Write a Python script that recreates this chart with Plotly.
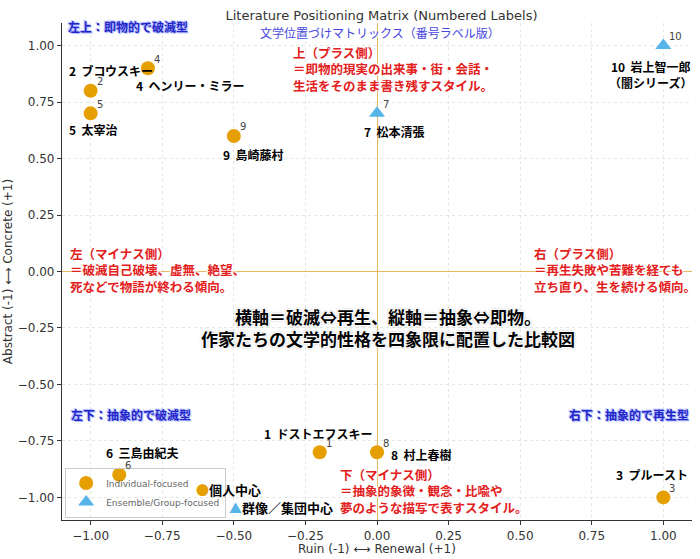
import plotly.graph_objects as go

# --- data -------------------------------------------------------------
ids = [1, 2, 3, 4, 5, 6, 7, 8, 9, 10]
names = ["ドストエフスキー", "ブコウスキー", "プルースト", "ヘンリー・ミラー", "太宰治",
         "三島由紀夫", "松本清張", "村上春樹", "島崎藤村", "岩上智一郎<br>（闇シリーズ）"]
ruin_renewal = [-0.2, -1.0, 1.0, -0.8, -1.0, -0.9, 0.0, 0.0, -0.5, 1.0]
abstract_concrete = [-0.8, 0.8, -1.0, 0.9, 0.7, -0.9, 0.7, -0.8, 0.6, 1.0]
groups = ["ind", "ind", "ind", "ind", "ind", "ind", "ens", "ind", "ind", "ens"]

# label offsets from each point (layout only)
label_dx = [-0.005, 0.07, -0.04, 0.15, 0.01, 0.08, 0.06, 0.155, 0.07, -0.045]
label_dy = [0.085, 0.09, 0.10, -0.075, -0.07, 0.10, -0.08, -0.01, -0.08, -0.13]

ORANGE = "#E69F00"
BLUE = "#56B4E9"
CJK = "Noto Sans CJK JP"
halo = "white 1px 1px 1px, white -1px -1px 1px, white 1px -1px 1px, white -1px 1px 1px"

fig = go.Figure()

for key, name, color, symbol in [("ind", "Individual-focused", ORANGE, "circle"),
                                 ("ens", "Ensemble/Group-focused", BLUE, "triangle-up")]:
    idx = [i for i, g in enumerate(groups) if g == key]
    fig.add_trace(go.Scatter(
        x=[ruin_renewal[i] for i in idx],
        y=[abstract_concrete[i] for i in idx],
        mode="markers",
        marker=dict(color=color, size=14, symbol=symbol),
        name=name,
    ))

annotations = []
for i in range(len(ids)):
    # small number next to marker
    annotations.append(dict(
        x=ruin_renewal[i], y=abstract_concrete[i], xshift=9 + 3 * (ids[i] >= 10), yshift=9,
        text=str(ids[i]), showarrow=False,
        font=dict(family="DejaVu Sans", size=10, color="#444")))
    # name label
    annotations.append(dict(
        x=ruin_renewal[i] + label_dx[i], y=abstract_concrete[i] + label_dy[i],
        text=f"<b>{ids[i]}  {names[i]}</b>", showarrow=False,
        font=dict(family=CJK, size=12, color="black"), align="center"))

# quadrant labels
quad_font = dict(family=CJK, size=12, color="#2424c8", shadow="#a8b8ff 1px 1px 1px, #a8b8ff -1px -1px 1px")
annotations += [
    dict(x=-1.085, y=1.085, text="<b>左上：即物的で破滅型</b>", xanchor="left", showarrow=False, font=quad_font),
    dict(x=1.12, y=1.125, text="<b>右上：即物的で再生型</b>", xanchor="right", showarrow=False, font=quad_font),
    dict(x=-1.075, y=-0.635, text="<b>左下：抽象的で破滅型</b>", xanchor="left", showarrow=False, font=quad_font),
    dict(x=1.095, y=-0.635, text="<b>右下：抽象的で再生型</b>", xanchor="right", showarrow=False, font=quad_font),
    dict(x=0.01, y=1.06, text="文学位置づけマトリックス（番号ラベル版）", showarrow=False,
         font=dict(family=CJK, size=12, color="#4646e0", shadow=halo)),
]

red_font = dict(family=CJK, size=12.5, color="#e3201b", shadow=halo)
annotations += [
    dict(x=-0.30, y=0.895, text="<b>上（プラス側）<br>＝即物的現実の出来事・街・会話・<br>生活をそのまま書き残すスタイル。</b>",
         xanchor="left", align="left", showarrow=False, font=red_font),
    dict(x=-1.08, y=0.005, text="<b>左（マイナス側）<br>＝破滅自己破壊、虚無、絶望、<br>死などで物語が終わる傾向。</b>",
         xanchor="left", align="left", showarrow=False, font=red_font),
    dict(x=0.54, y=0.005, text="<b>右（プラス側）<br>＝再生失敗や苦難を経ても<br>立ち直り、生を続ける傾向。</b>",
         xanchor="left", align="left", showarrow=False, font=red_font),
    dict(x=-0.135, y=-0.97, text="<b>下（マイナス側）<br>＝抽象的象徴・観念・比喩や<br>夢のような描写で表すスタイル。</b>",
         xanchor="left", align="left", showarrow=False, font=red_font),
    dict(x=0.04, y=-0.25, text="<b>横軸＝破滅⇔再生、縦軸＝抽象⇔即物。<br>作家たちの文学的性格を四象限に配置した比較図</b>",
         showarrow=False, font=dict(family=CJK, size=17, color="black",
                                    shadow="white 1px 1px 1px, white -1px -1px 1px, white 1px -1px 1px, white -1px 1px 1px, #666 0 0 3px")),
    dict(x=-0.64, y=-0.965, xanchor="left", showarrow=False,
         text=f"<span style='color:{ORANGE}'>●</span><b>個人中心</b>", font=dict(family=CJK, size=13, color="black")),
    dict(x=-0.525, y=-1.045, xanchor="left", showarrow=False,
         text=f"<span style='color:{BLUE}'>▲</span><b>群像／集団中心</b>", font=dict(family=CJK, size=13, color="black")),
]

axis_common = dict(
    range=[-1.1, 1.1], dtick=0.25, tickformat=".2f", automargin=False,
    showgrid=True, gridcolor="#e6e6e6", griddash="dot", gridwidth=1,
    zeroline=True, zerolinecolor="#E8B860", zerolinewidth=1,
    showline=True, linecolor="#333", linewidth=1.2, mirror=False,
    ticks="outside", ticklen=4, tickcolor="#333",
    tickfont=dict(family="DejaVu Sans", size=12, color="#333"),
)

fig.update_layout(
    width=700, height=559,
    margin=dict(l=62, r=8, t=23, b=39),
    paper_bgcolor="white", plot_bgcolor="white",
    title=dict(text="Literature Positioning Matrix (Numbered Labels)", x=0.545, xanchor="center",
               y=0.98, yanchor="top", font=dict(family="DejaVu Sans", size=13, color="#333")),
    xaxis=dict(title=dict(text="Ruin (-1) ⟷ Renewal (+1)", standoff=2,
                          font=dict(family="DejaVu Sans", size=12, color="#333")), **axis_common),
    yaxis=dict(title=dict(text="Abstract (-1) ⟷ Concrete (+1)", standoff=2,
                          font=dict(family="DejaVu Sans", size=12, color="#333")), **axis_common),
    legend=dict(x=0.005, y=0.005, xanchor="left", yanchor="bottom",
                bgcolor="rgba(255,255,255,0)", bordercolor="#cccccc", borderwidth=1,
                font=dict(family="DejaVu Sans", size=9, color="#666"), tracegroupgap=0),
    annotations=annotations,
)

fig.write_html("out.html", config={"displayModeBar": False},
               post_script="document.body.style.margin='0';")
